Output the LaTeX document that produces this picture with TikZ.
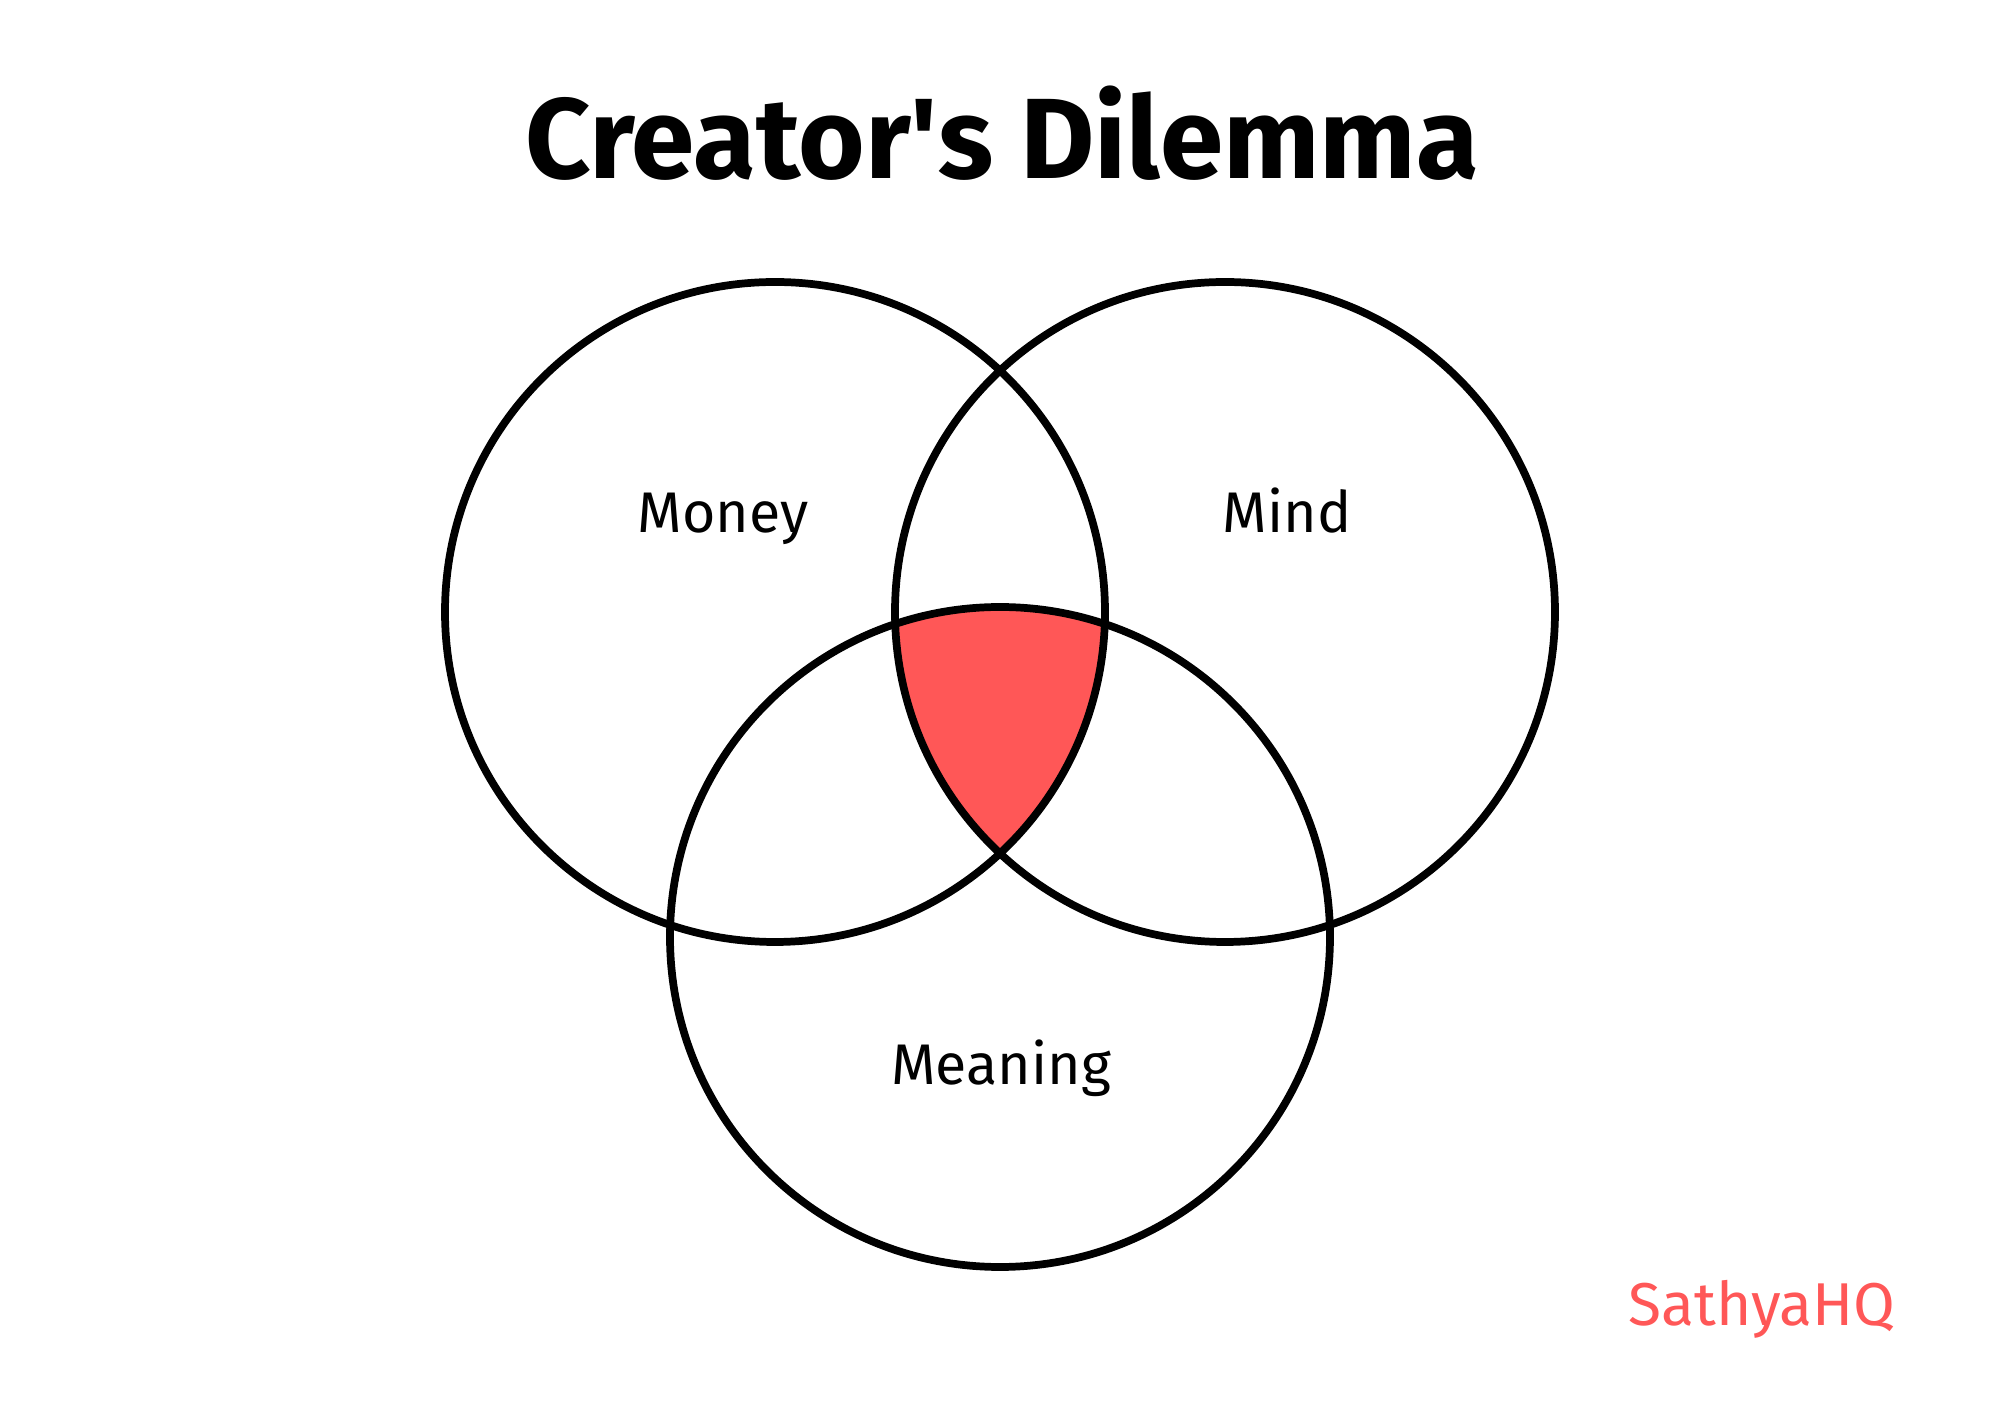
\documentclass[tikz,border=0pt]{standalone}
\usepackage{fontspec}
\setmainfont{Fira Sans}
\definecolor{accent}{HTML}{FF5757}
\begin{document}
\begin{tikzpicture}[x=0.1mm,y=-0.1mm,
  ring/.style={circle,draw=black,line width=2.2pt,minimum size=66mm,inner sep=0pt},
  setlabel/.style={anchor=base,inner sep=0pt,font=\fontsize{16.3}{18}\selectfont},
  titletext/.style={anchor=base,inner sep=0pt,font=\fontsize{32.5}{36}\selectfont\bfseries},
  brand/.style={anchor=base,inner sep=0pt,text=accent,font=\fontsize{17.2}{20}\selectfont}]
\useasboundingbox (0,0) rectangle (2000,1414);
\fill[white] (0,0) rectangle (2000,1414);
% intersection of all three sets
\begin{scope}
  \clip (775,612) circle[radius=330];
  \clip (1225,612) circle[radius=330];
  \fill[accent] (1000,937) circle[radius=330];
\end{scope}
\node[ring] (money) at (775,612) {};
\node[ring] (mind) at (1225,612) {};
\node[ring] (meaning) at (1000,937) {};
\node[titletext] (title) at (1002,179) {Creator\textquotesingle s Dilemma};
\node[setlabel] (moneylabel) at (723,533) {Money};
\node[setlabel] (mindlabel) at (1287,533) {Mind};
\node[setlabel] (meaninglabel) at (1001,1085) {Meaning};
\node[brand] (brandlabel) at (1762,1326) {SathyaHQ};
\end{tikzpicture}
\end{document}
